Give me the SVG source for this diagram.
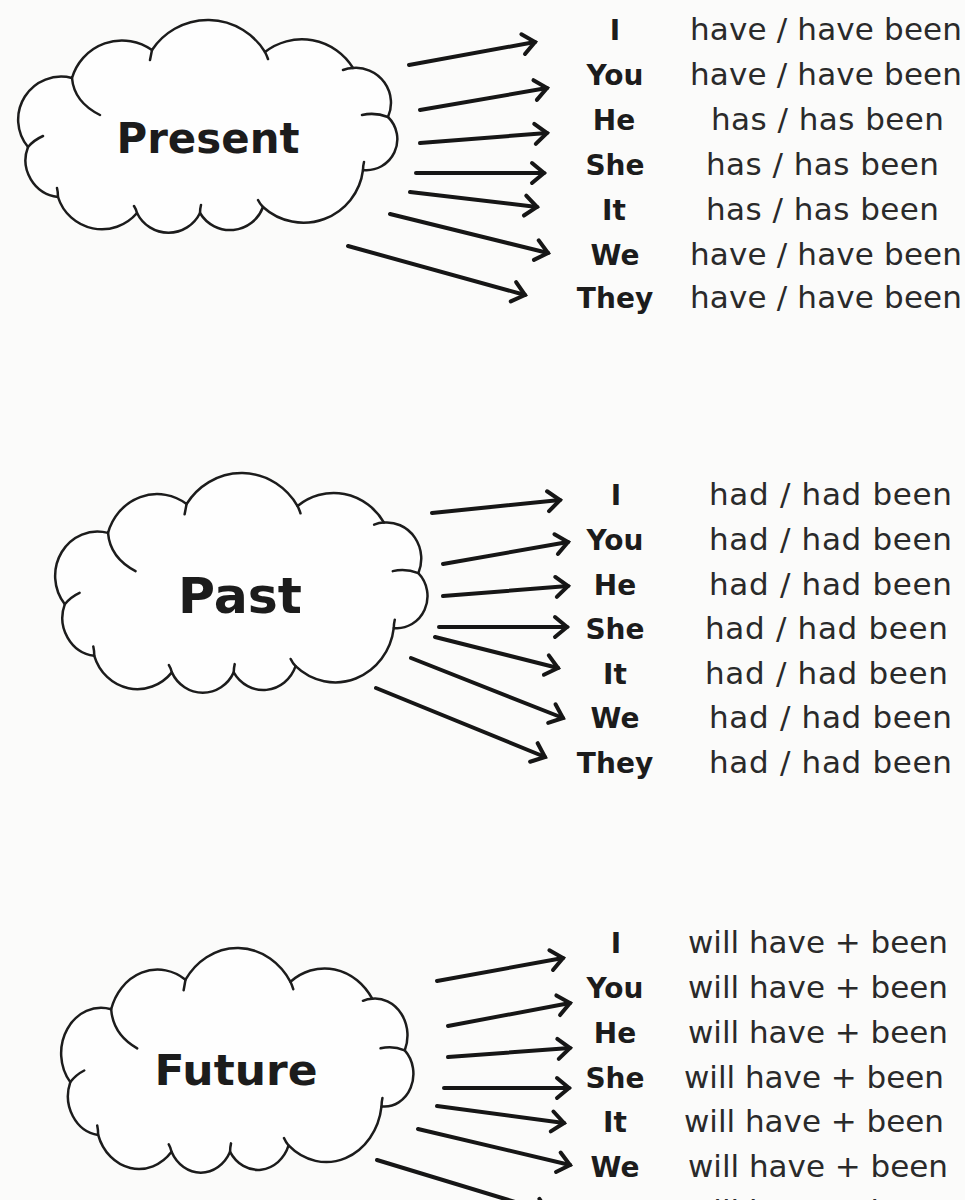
<svg xmlns="http://www.w3.org/2000/svg" xmlns:xlink="http://www.w3.org/1999/xlink" width="965" height="1200" viewBox="0 0 965 1200">
<defs>
<style>
.bg{fill:#fbfbfa}
.cloud{fill:#fefefe;stroke:#1c1c1c;stroke-width:2.5;stroke-linejoin:round;stroke-linecap:round}
.tail{fill:none;stroke:#1c1c1c;stroke-width:2.5;stroke-linecap:round}
.title{font-family:"DejaVu Sans","Liberation Sans",sans-serif;font-weight:bold;fill:#1c1c1c;text-anchor:middle}
.pr{font-family:"DejaVu Sans","Liberation Sans",sans-serif;font-weight:bold;font-size:28px;fill:#1c1c1c;text-anchor:middle}
.val{font-family:"DejaVu Sans","Liberation Sans",sans-serif;font-size:31px;fill:#2a2a2a}
.arrow{fill:none;stroke:#161616;stroke-width:4;stroke-linecap:round;marker-end:url(#head)}
</style>
<marker id="head" markerUnits="userSpaceOnUse" markerWidth="30" markerHeight="30" viewBox="-15 -15 30 30" refX="0" refY="0" orient="auto" overflow="visible">
<path d="M-12,-10 L0,0 L-12,10" fill="none" stroke="#161616" stroke-width="4" stroke-linecap="round" stroke-linejoin="miter"/>
</marker>
<g id="cloudShape">
<path class="cloud" vector-effect="non-scaling-stroke" d="M28,147 A43,43 0 0 1 72,78 A52,52 0 0 1 152,50 A67,67 0 0 1 265,52 A60,60 0 0 1 353,68 A35,35 0 0 1 388,117 A31,31 0 0 1 363,170 A60,60 0 0 1 263,207 A35,35 0 0 1 200,213 A35,35 0 0 1 137,213 A46,46 0 0 1 58,197 A37,37 0 0 1 28,147 Z"/>
<path class="tail" vector-effect="non-scaling-stroke" d="M28,147 Q34,140 43,136 M72,78 Q74,102 100,115 M152,50 Q151,55 150,60 M265,52 Q267,56 268,59 M353,68 Q348,68 343,70 M388,117 Q375,112 362,115 M363,170 Q363,166 364,162 M263,207 Q260,204 258,200 M200,213 Q200,209 201,205 M137,213 Q136,209 134,206 M58,197 Q58,192 57,188"/>
</g>
</defs>
<rect class="bg" x="0" y="0" width="965" height="1200"/>

<g id="cloud-present">
<use xlink:href="#cloudShape" href="#cloudShape"/>
<text class="title" x="208" y="153" font-size="42" textLength="183" lengthAdjust="spacingAndGlyphs">Present</text>
</g>
<g id="cloud-past">
<use xlink:href="#cloudShape" href="#cloudShape" transform="translate(55,473) scale(0.982,1.033) translate(-18,-20)"/>
<text class="title" x="240" y="613" font-size="50" textLength="124" lengthAdjust="spacingAndGlyphs">Past</text>
</g>
<g id="cloud-future">
<use xlink:href="#cloudShape" href="#cloudShape" transform="translate(61,948) scale(0.929,1.056) translate(-18,-20)"/>
<text class="title" x="236" y="1085" font-size="43" textLength="163" lengthAdjust="spacingAndGlyphs">Future</text>
</g>

<g id="connectors">
<path class="arrow" d="M409,65 L535,42"/>
<path class="arrow" d="M420,110 L547,88"/>
<path class="arrow" d="M420,143 L547,133"/>
<path class="arrow" d="M416,173 L544,173"/>
<path class="arrow" d="M410,192 L537,207"/>
<path class="arrow" d="M390,214 L548,253"/>
<path class="arrow" d="M348,246 L525,295"/>
<path class="arrow" d="M432,513 L560,500"/>
<path class="arrow" d="M443,564 L568,542"/>
<path class="arrow" d="M443,596 L568,586"/>
<path class="arrow" d="M439,627 L567,627"/>
<path class="arrow" d="M435,637 L558,668"/>
<path class="arrow" d="M411,658 L563,718"/>
<path class="arrow" d="M376,688 L545,757"/>
<path class="arrow" d="M437,981 L563,958"/>
<path class="arrow" d="M448,1026 L570,1003"/>
<path class="arrow" d="M448,1057 L570,1048"/>
<path class="arrow" d="M444,1088 L569,1088"/>
<path class="arrow" d="M437,1106 L564,1123"/>
<path class="arrow" d="M418,1129 L570,1165"/>
<path class="arrow" d="M377,1160 L548,1212"/>
</g>

<g id="present-rows">
<g id="present-i"><text class="pr" x="615" y="40">I</text><text class="val" x="690" y="40" textLength="272">have / have been</text></g>
<g id="present-you"><text class="pr" x="615" y="85">You</text><text class="val" x="690" y="85" textLength="272">have / have been</text></g>
<g id="present-he"><text class="pr" x="614" y="130">He</text><text class="val" x="711" y="130" textLength="233">has / has been</text></g>
<g id="present-she"><text class="pr" x="615" y="175">She</text><text class="val" x="706" y="175" textLength="233">has / has been</text></g>
<g id="present-it"><text class="pr" x="614" y="220">It</text><text class="val" x="706" y="220" textLength="233">has / has been</text></g>
<g id="present-we"><text class="pr" x="615" y="265">We</text><text class="val" x="690" y="265" textLength="272">have / have been</text></g>
<g id="present-they"><text class="pr" x="615" y="308">They</text><text class="val" x="690" y="308" textLength="272">have / have been</text></g>
</g>

<g id="past-rows">
<g id="past-i"><text class="pr" x="616" y="505">I</text><text class="val" x="709" y="505" textLength="243">had / had been</text></g>
<g id="past-you"><text class="pr" x="615" y="550">You</text><text class="val" x="709" y="550" textLength="243">had / had been</text></g>
<g id="past-he"><text class="pr" x="615" y="595">He</text><text class="val" x="709" y="595" textLength="243">had / had been</text></g>
<g id="past-she"><text class="pr" x="615" y="639">She</text><text class="val" x="705" y="639" textLength="243">had / had been</text></g>
<g id="past-it"><text class="pr" x="615" y="684">It</text><text class="val" x="705" y="684" textLength="243">had / had been</text></g>
<g id="past-we"><text class="pr" x="615" y="728">We</text><text class="val" x="709" y="728" textLength="243">had / had been</text></g>
<g id="past-they"><text class="pr" x="615" y="773">They</text><text class="val" x="709" y="773" textLength="243">had / had been</text></g>
</g>

<g id="future-rows">
<g id="future-i"><text class="pr" x="616" y="953">I</text><text class="val" x="688" y="953" textLength="260">will have + been</text></g>
<g id="future-you"><text class="pr" x="615" y="998">You</text><text class="val" x="688" y="998" textLength="260">will have + been</text></g>
<g id="future-he"><text class="pr" x="615" y="1043">He</text><text class="val" x="688" y="1043" textLength="260">will have + been</text></g>
<g id="future-she"><text class="pr" x="615" y="1088">She</text><text class="val" x="684" y="1088" textLength="260">will have + been</text></g>
<g id="future-it"><text class="pr" x="615" y="1132">It</text><text class="val" x="684" y="1132" textLength="260">will have + been</text></g>
<g id="future-we"><text class="pr" x="615" y="1177">We</text><text class="val" x="688" y="1177" textLength="260">will have + been</text></g>
<g id="future-they"><text class="pr" x="615" y="1222">They</text><text class="val" x="688" y="1222" textLength="260">will have + been</text></g>
</g>
</svg>
